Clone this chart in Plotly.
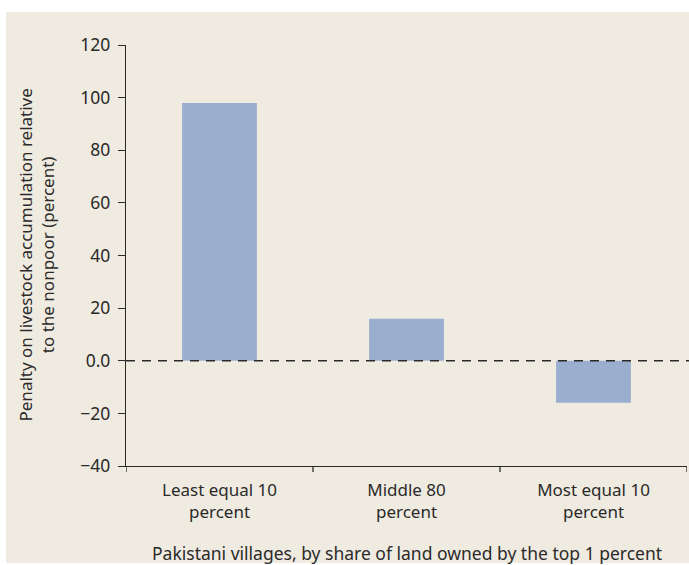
import plotly.graph_objects as go

# Village groups and the livestock-accumulation penalty for each (percent)
categories = ["Least equal 10<br>percent", "Middle 80<br>percent", "Most equal 10<br>percent"]
penalty = [98, 16, -16]
y_ticks = [-40, -20, 0, 20, 40, 60, 80, 100, 120]
y_tick_labels = ["\u221240", "\u221220", "0.0", "20", "40", "60", "80", "100", "120"]

BG = "#EFEBE1"
BAR = "#9AAFD0"
INK = "#2B2A29"
FONT = "Noto Sans"

fig = go.Figure()
fig.add_trace(go.Bar(
    x=list(range(len(categories))),
    y=penalty,
    marker=dict(color=BAR, line=dict(width=0)),
    width=0.4,
))

fig.update_layout(
    width=689, height=565,
    paper_bgcolor="white",
    plot_bgcolor=BG,
    margin=dict(l=126, r=2, t=45, b=99),
    showlegend=False,
    font=dict(family=FONT, color=INK, size=17),
    xaxis=dict(
        range=[-0.5, 2.5],
        tickmode="array",
        tickvals=[0, 1, 2],
        ticktext=categories,
        showline=True, linecolor=INK, linewidth=1.3,
        ticks="", showgrid=False, zeroline=False,
        ticklabelstandoff=8,
        tickfont=dict(size=17, family=FONT, color=INK),
        fixedrange=True,
    ),
    yaxis=dict(
        range=[-40, 120],
        tickmode="array",
        tickvals=y_ticks,
        ticktext=y_tick_labels,
        showline=True, linecolor=INK, linewidth=1.3,
        ticks="outside", ticklen=7, tickwidth=1.3, tickcolor=INK,
        showgrid=False, zeroline=False,
        ticklabelstandoff=4,
        tickfont=dict(size=17.5, family=FONT, color=INK),
        fixedrange=True,
    ),
)

# Beige panel behind the whole chart
fig.add_shape(type="rect", xref="paper", yref="paper", layer="below",
              x0=-120 / 561, x1=1.01, y0=-97 / 421, y1=1 + 33 / 421,
              fillcolor=BG, line=dict(width=0))

# Category boundary ticks on the x axis
for xv in [-0.5, 0.5, 1.5, 2.5]:
    fig.add_shape(type="line", xref="x", yref="paper",
                  x0=xv, x1=xv, y0=0, y1=-6 / 421,
                  line=dict(color=INK, width=1.3))

# Dashed zero reference line
fig.add_shape(type="line", xref="paper", yref="y",
              x0=0, x1=1.01, y0=0, y1=0,
              line=dict(color=INK, width=1.3, dash="9px,7px"))

# Axis titles
fig.add_annotation(
    text="Penalty on livestock accumulation relative<br>to the nonpoor (percent)",
    xref="paper", yref="paper", x=-90 / 561, y=0.5,
    xanchor="center", yanchor="middle", textangle=-90, showarrow=False,
    font=dict(size=17, family=FONT, color=INK),
)
fig.add_annotation(
    text="Pakistani villages, by share of land owned by the top 1 percent",
    xref="paper", yref="paper", x=(407 - 126) / 561, y=-87 / 421,
    xanchor="center", yanchor="middle", showarrow=False,
    font=dict(size=17.5, family=FONT, color=INK),
)

fig.write_html("out.html")
